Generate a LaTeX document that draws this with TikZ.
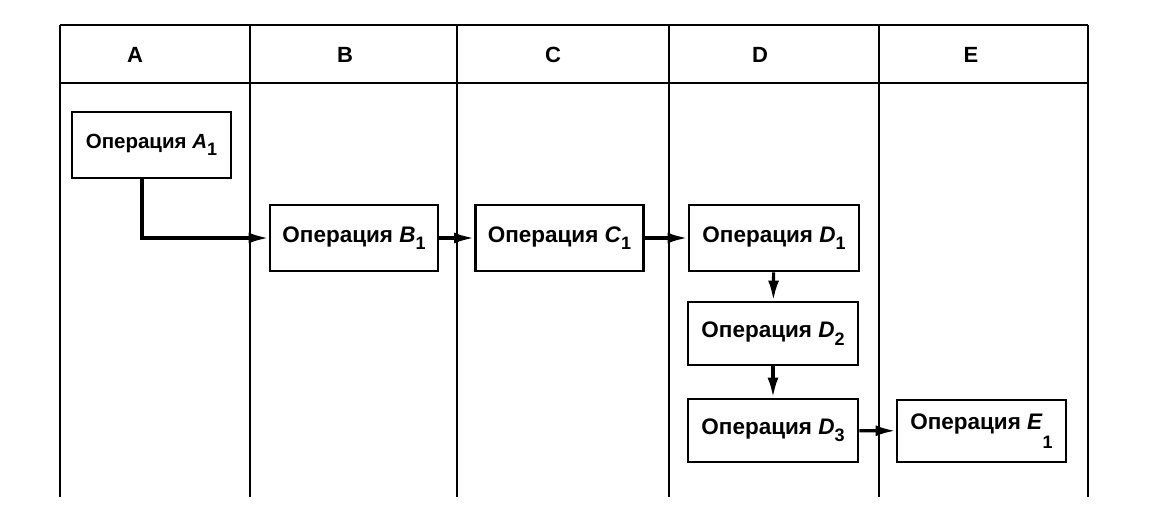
\documentclass[tikz,border=0pt]{standalone}
\usepackage{fontspec}
\setmainfont{Liberation Sans}
\usetikzlibrary{arrows.meta}
\newcommand{\subidx}[1]{\raisebox{-0.33em}{\fontsize{18}{18}\selectfont #1}}
\begin{document}
\begin{tikzpicture}[x=1pt,y=-1pt,
  frameline/.style={line width=2.8pt},
  opbox/.style={draw,line width=2.8pt,inner sep=0pt,font=\fontsize{22.5}{24}\selectfont\bfseries},
  head/.style={font=\fontsize{22}{24}\selectfont\bfseries},
  flow/.style={line width=3.2pt,-{Latex[length=20pt,width=11pt]}}]
\useasboundingbox (0,0) rectangle (1171,517);
% frame
\draw[frameline] (60,25) -- (1088,25);
\draw[frameline] (60,83) -- (1088,83);
\foreach \x in {60,250,457,669,879,1088} \draw[frameline] (\x,25) -- (\x,497);
% headers
\node[head] (hA) at (135,55) {A};
\node[head] (hB) at (345,55) {B};
\node[head] (hC) at (553,55) {C};
\node[head] (hD) at (760,55) {D};
\node[head] (hE) at (971,55) {E};
% boxes
\node[opbox,minimum width=159pt,minimum height=66pt,font=\fontsize{20.5}{22}\selectfont\bfseries] (A1) at (151.5,145) {Операция \textit{A}\subidx{1}};
\node[opbox,minimum width=168pt,minimum height=66pt] (B1) at (354,238) {Операция \textit{B}\subidx{1}};
\node[opbox,minimum width=168pt,minimum height=66pt] (C1) at (559.5,238) {Операция \textit{C}\subidx{1}};
\node[opbox,minimum width=170pt,minimum height=66pt] (D1) at (774,238) {Операция \textit{D}\subidx{1}};
\node[opbox,minimum width=170pt,minimum height=63pt] (D2) at (773,333.5) {Операция \textit{D}\subidx{2}};
\node[opbox,minimum width=170pt,minimum height=63pt] (D3) at (773,430.5) {Операция \textit{D}\subidx{3}};
\node[opbox,minimum width=169pt,minimum height=62pt] (E1) at (981.5,431) {Операция \textit{E}\raisebox{-0.85em}{\fontsize{18}{18}\selectfont 1}};
% connectors
\coordinate (a1x) at (142,0);
\draw[flow] (A1.south -| a1x) |- (B1.west);
\draw[flow] (B1) -- (C1);
\draw[flow] (C1) -- (D1);
\draw[flow] (D1) -- (D2);
\draw[flow] (D2) -- (D3);
\draw[flow] (D3) -- (E1);
\end{tikzpicture}
\end{document}
